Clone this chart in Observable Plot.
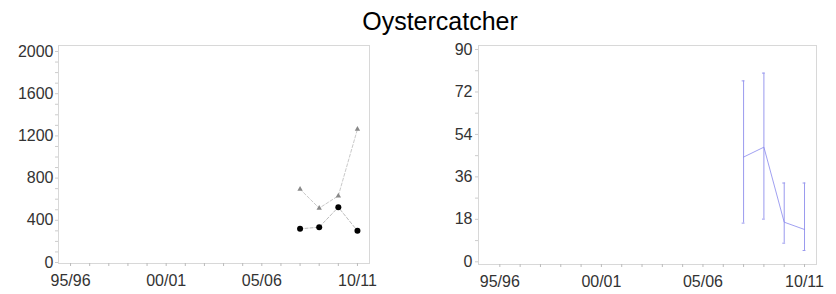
<!DOCTYPE html>
<html>
<head>
<meta charset="utf-8">
<script src="https://cdn.jsdelivr.net/npm/d3@7"></script>
<script src="https://cdn.jsdelivr.net/npm/@observablehq/plot@0.6"></script>
<style>
  html, body { margin: 0; padding: 0; background: #fff; }
  body { width: 836px; height: 294px; position: relative; overflow: hidden; font-family: "Liberation Sans", Arial, sans-serif; }
  #title { position: absolute; left: 0; top: 9px; width: 880px; text-align: center; font-size: 25px; line-height: 1; color: #000; z-index: 2; }
  #left { position: absolute; left: 0; top: 30px; z-index: 1; }
  #right { position: absolute; left: 418px; top: 30px; z-index: 1; }
</style>
</head>
<body>
<div id="title">Oystercatcher</div>
<div id="left"></div>
<div id="right"></div>
<script>
// Data
const title = "Oystercatcher";
const seasonYears = [2007, 2008, 2009, 2010];
const seasonLabels = ["07/08", "08/09", "09/10", "10/11"];
const dotValues = [319, 335, 524, 300];
const triangleValues = [695, 515, 632, 1264];
const rightMean = [44.4, 48.6, 16.8, 13.7];
const rightLow = [16.4, 18.1, 7.9, 4.8];
const rightHigh = [76.7, 80.0, 33.4, 33.4];
const xTickYears = [1995, 2000, 2005, 2010];
const xTickLabels = ["95/96", "00/01", "05/06", "10/11"];
const leftYTicks = [0, 400, 800, 1200, 1600, 2000];
const rightYTicks = [0, 18, 36, 54, 72, 90];

const fmtX = (d) => xTickLabels[xTickYears.indexOf(d)] ?? "";
const fmtY = (d) => String(d);
const minorYears = d3.range(1995, 2011);

const dots = seasonYears.map((y, i) => ({year: y, season: seasonLabels[i], value: dotValues[i]}));
const tris = seasonYears.map((y, i) => ({year: y, season: seasonLabels[i], value: triangleValues[i]}));
const right = seasonYears.map((y, i) => ({year: y, season: seasonLabels[i], mean: rightMean[i], lo: rightLow[i], hi: rightHigh[i]}));

const common = {
  width: 418,
  height: 264,
  marginTop: 15,
  style: {fontFamily: "Liberation Sans, Arial, sans-serif", fontSize: "16px", color: "#333", background: "transparent", overflow: "visible"}
};

const left = Plot.plot({
  ...common,
  marginLeft: 58,
  marginRight: 49,
  marginBottom: 31,
  x: {domain: [1994.37, 2010.63], label: null},
  y: {domain: [-9.5, 2057], label: null},
  marks: [
    Plot.frame({stroke: "#d8d8d8"}),
    Plot.axisX(minorYears, {tickSize: 3, stroke: "#bbb", tickFormat: () => "", label: null}),
    Plot.axisX(xTickYears, {tickSize: 0, tickPadding: 11, tickFormat: fmtX, fill: "#333", label: null}),
    Plot.axisY(d3.range(0, 2001, 100), {tickSize: 3, stroke: "#ccc", tickFormat: () => "", label: null}),
    Plot.axisY(leftYTicks, {tickSize: 0, tickPadding: 5, tickFormat: fmtY, fill: "#333", label: null}),
    Plot.line(tris, {x: "year", y: "value", stroke: "#bbb", strokeWidth: 0.8, strokeDasharray: "3,2"}),
    Plot.line(dots, {x: "year", y: "value", stroke: "#aaa", strokeWidth: 0.8, strokeDasharray: "3,2"}),
    Plot.dot(tris, {x: "year", y: "value", symbol: "triangle", r: 2, fill: "#888"}),
    Plot.dot(dots, {x: "year", y: "value", r: 3, fill: "#000"})
  ]
});
document.getElementById("left").append(left);

const capHalf = 0.07;
const rightPlot = Plot.plot({
  ...common,
  marginLeft: 60,
  marginRight: 20,
  marginBottom: 30,
  x: {domain: [1993.95, 2010.59], label: null},
  y: {domain: [-1.14, 91.7], label: null},
  marks: [
    Plot.frame({stroke: "#d8d8d8"}),
    Plot.axisX(minorYears, {tickSize: 3, stroke: "#bbb", tickFormat: () => "", label: null}),
    Plot.axisX(xTickYears, {tickSize: 0, tickPadding: 11, tickFormat: fmtX, fill: "#333", label: null}),
    Plot.axisY(d3.range(0, 91, 9), {tickSize: 3, stroke: "#ccc", tickFormat: () => "", label: null}),
    Plot.axisY(rightYTicks, {tickSize: 0, tickPadding: 6, tickFormat: fmtY, fill: "#333", label: null}),
    Plot.ruleX(right, {x: "year", y1: "lo", y2: "hi", stroke: "#9a9aee", strokeWidth: 1}),
    Plot.ruleY(right, {y: "lo", x1: (d) => d.year - capHalf, x2: (d) => d.year + capHalf, stroke: "#9a9aee", strokeWidth: 1}),
    Plot.ruleY(right, {y: "hi", x1: (d) => d.year - capHalf, x2: (d) => d.year + capHalf, stroke: "#9a9aee", strokeWidth: 1}),
    Plot.line(right, {x: "year", y: "mean", stroke: "#8888ee", strokeWidth: 0.8})
  ]
});
document.getElementById("right").append(rightPlot);
</script>
</body>
</html>
